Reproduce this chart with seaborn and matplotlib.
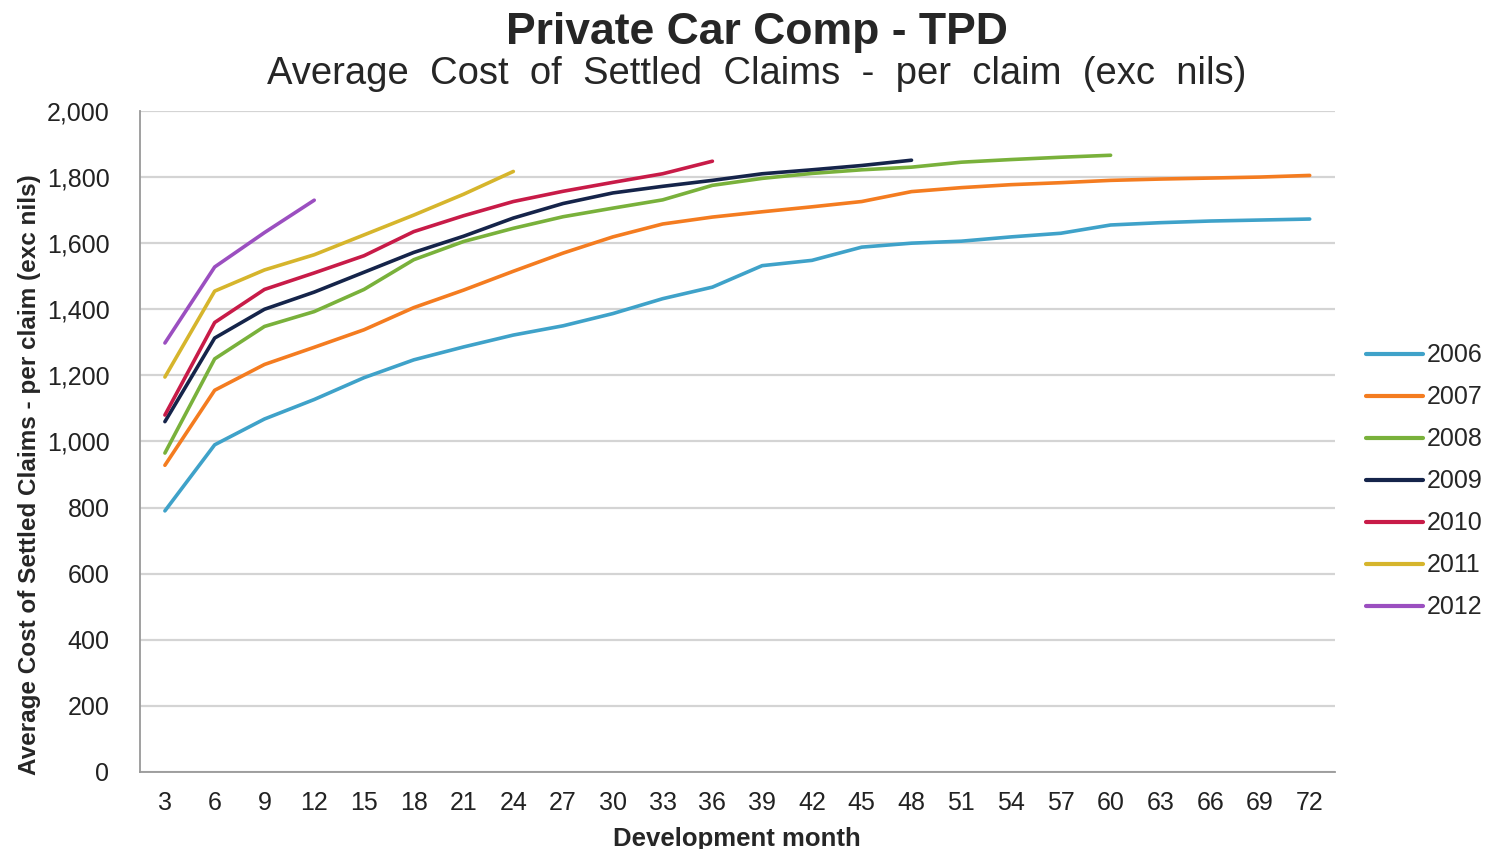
import pandas as pd
import matplotlib
matplotlib.use("Agg")
import matplotlib.pyplot as plt
import seaborn as sns
from matplotlib.ticker import FuncFormatter, MultipleLocator

months = list(range(3, 75, 3))
years = ["2006", "2007", "2008", "2009", "2010", "2011", "2012"]

y2006 = [790, 990, 1068, 1127, 1193, 1247, 1286, 1322, 1350, 1387, 1432, 1467,
         1532, 1548, 1588, 1600, 1606, 1619, 1630, 1655, 1662, 1667, 1670, 1673]
y2007 = [928, 1155, 1233, 1285, 1338, 1405, 1458, 1515, 1570, 1619, 1658, 1679,
         1695, 1710, 1726, 1756, 1768, 1777, 1783, 1790, 1794, 1797, 1800, 1805]
y2008 = [965, 1250, 1348, 1393, 1460, 1550, 1605, 1645, 1680, 1706, 1731, 1775,
         1796, 1811, 1822, 1830, 1845, 1853, 1860, 1866]
y2009 = [1060, 1313, 1400, 1452, 1512, 1572, 1621, 1676, 1720, 1752, 1772, 1790,
         1810, 1822, 1835, 1851]
y2010 = [1080, 1360, 1460, 1510, 1562, 1635, 1683, 1726, 1757, 1784, 1810, 1848]
y2011 = [1195, 1455, 1519, 1565, 1625, 1685, 1748, 1817]
y2012 = [1298, 1528, 1632, 1730]

colours = ["#3fa2c9", "#f47c20", "#79b13b", "#15244a", "#c81b48", "#d6b52c", "#9b4fc0"]

# long format for seaborn
series = [y2006, y2007, y2008, y2009, y2010, y2011, y2012]
rows = []
for yr, vals in zip(years, series):
    for m, v in zip(months, vals):
        rows.append({"month": m, "cost": v, "year": yr})
df = pd.DataFrame(rows)

sns.set_style("white")
plt.rcParams['font.family'] = ['Liberation Sans', 'DejaVu Sans']

fig = plt.figure(figsize=(14.96, 8.49), dpi=100)
ax = fig.add_axes([0.0936, 0.0907, 0.7985, 0.7786])

sns.lineplot(data=df, x="month", y="cost", hue="year", palette=dict(zip(years, colours)),
             linewidth=2.6, ax=ax)

ax.set_xlim(1.5, 73.5)
ax.set_ylim(0, 2000)
ax.set_xticks(months)
ax.xaxis.set_minor_locator(MultipleLocator(3, offset=1.5))
ax.set_yticks(range(0, 2001, 200))
ax.yaxis.set_major_formatter(FuncFormatter(lambda v, p: f"{int(v):,}"))
ax.tick_params(axis="x", which="major", length=0, labelsize=18, pad=14, colors="#222222")
ax.tick_params(axis="x", which="minor", length=6, direction="out", color="#999999", width=1.2)
ax.tick_params(axis="y", length=8, direction="out", color="#999999", labelsize=18, pad=14,
               labelcolor="#222222")
ax.grid(axis="y", color="#d4d4d4", linewidth=1.6)
ax.set_axisbelow(True)
for s in ["top", "right"]:
    ax.spines[s].set_visible(False)
for s in ["left", "bottom"]:
    ax.spines[s].set_color("#999999")
    ax.spines[s].set_linewidth(1.3)

ax.set_xlabel("Development month", fontsize=18.5, fontweight="bold", labelpad=8)
ax.set_ylabel("Average Cost of Settled Claims - per claim (exc nils)", fontsize=17.5,
              fontweight="bold")
ax.yaxis.set_label_coords(-0.083, 0.45)

fig.text(0.506, 0.962, "Private Car Comp - TPD", ha="center", va="center",
         fontsize=32, fontweight="bold")
fig.text(0.506, 0.913, "Average  Cost  of  Settled  Claims  -  per  claim  (exc  nils)",
         ha="center", va="center", fontsize=27.5)

leg = ax.legend(loc="upper left", bbox_to_anchor=(0.898, 0.622), bbox_transform=fig.transFigure,
                frameon=False, fontsize=18, handlelength=2.3, handletextpad=0.15,
                labelspacing=0.72, title=None)
for h in leg.get_lines():
    h.set_linewidth(3)

plt.savefig("out.png", dpi=100)
